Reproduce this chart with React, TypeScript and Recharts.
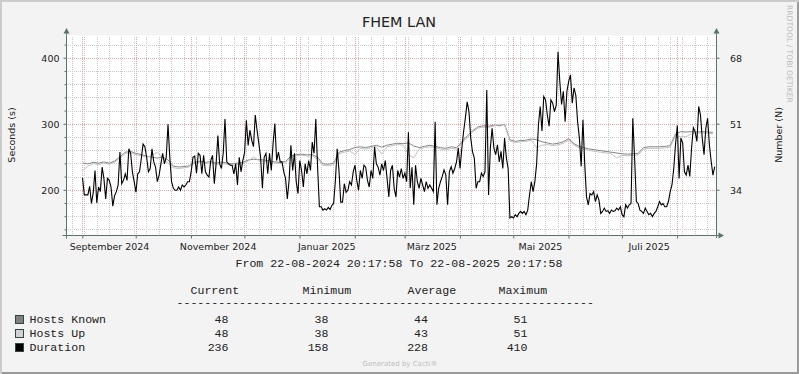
import React from 'react';
import { LineChart, Line, XAxis, YAxis, CartesianGrid, ReferenceLine, ReferenceDot } from 'recharts';

// time axis in days since 22-08-2024 20:17:58 (graph start)
const RANGE_DAYS = 365;

// Duration (seconds), one value per day starting at day 9 (01-09-2024)
const durationStartDay = 9;
const durationValues = [
  219, 193, 193, 193, 206, 180, 196, 230, 181, 205,
  198, 235, 218, 187, 218, 215, 205, 176, 192, 198,
  208, 258, 210, 215, 225, 215, 263, 256, 228, 213,
  197, 225, 228, 248, 270, 266, 250, 228, 233, 263,
  243, 235, 213, 223, 240, 256, 240, 250, 300, 250,
  213, 203, 200, 200, 205, 200, 208, 205, 208, 213,
  213, 228, 250, 252, 226, 256, 253, 225, 253, 228,
  223, 220, 245, 253, 210, 240, 283, 240, 233, 256,
  308, 243, 240, 238, 238, 225, 240, 208, 250, 228,
  245, 257, 306, 268, 291, 276, 266, 314, 291, 271,
  250, 203, 250, 256, 225, 256, 230, 271, 301, 245,
  258, 243, 243, 228, 218, 187, 215, 268, 230, 256,
  213, 195, 245, 230, 205, 240, 225, 245, 230, 273,
  256, 308, 235, 175, 175, 170, 172, 170, 174, 171,
  177, 180, 215, 263, 230, 182, 182, 210, 197, 200,
  213, 208, 228, 238, 215, 200, 230, 218, 238, 235,
  215, 205, 230, 218, 266, 240, 235, 223, 240, 230,
  245, 218, 190, 230, 238, 203, 190, 230, 220, 233,
  218, 226, 213, 288, 203, 235, 178, 238, 213, 203,
  218, 208, 198, 213, 203, 208, 203, 198, 304, 178,
  203, 213, 221, 231, 223, 178, 228, 236, 226, 233,
  243, 264, 233, 264, 289, 310, 334, 319, 279, 258,
  249, 203, 213, 213, 226, 221, 228, 352, 193, 264,
  294, 264, 254, 269, 243, 259, 233, 279, 249, 233,
  158, 160, 158, 163, 160, 165, 168, 165, 168, 163,
  170, 193, 213, 198, 213, 240, 299, 327, 290, 342,
  337, 314, 297, 337, 332, 319, 329, 410, 365, 330,
  350, 304, 350, 365, 375, 332, 355, 344, 304, 279,
  236, 307, 240, 190, 178, 195, 193, 198, 183, 193,
  185, 165, 168, 173, 168, 169, 165, 170, 168, 169,
  173, 170, 175, 163, 160, 178, 173, 178, 180, 309,
  249, 183, 180, 170, 168, 165, 173, 168, 163, 165,
  160, 165, 168, 175, 183, 178, 180, 175, 175, 183,
  198, 208, 233, 270, 298, 218, 279, 272, 228, 223,
  238, 221, 264, 295, 289, 274, 327, 314, 279, 254,
  294, 309, 269, 244, 223, 236,
];

// host counts, every 3 days starting at day 9
const hostsStartDay = 9;
const hostsStepDays = 3;
const hostsKnownValues = [
  41.0, 40.8, 41.2, 41.0, 41.3, 41.0, 41.5, 42.6, 43.8, 44.0,
  43.5, 43.2, 42.8, 42.5, 42.3, 42.6, 41.8, 40.2, 40.0, 40.1,
  40.3, 41.3, 41.5, 41.2, 41.4, 41.0, 41.3, 41.0, 40.8, 41.0,
  41.2, 41.8, 42.0, 41.9, 41.8, 41.6, 41.3, 41.2, 41.4, 42.8,
  43.2, 43.3, 43.1, 43.2, 42.5, 40.8, 40.7, 41.0, 43.8, 44.2,
  44.5, 45.0, 45.2, 45.0, 45.3, 45.6, 45.1, 45.6, 45.9, 46.1,
  46.0, 46.2, 45.4, 45.0, 45.3, 45.6, 45.3, 45.0, 44.8, 45.2,
  45.0, 46.5, 48.0, 49.3, 50.3, 50.6, 50.5, 50.8, 50.6, 51.0,
  47.0, 46.6, 46.8, 46.9, 47.2, 47.0, 46.5, 46.2, 45.9, 46.1,
  46.5, 47.3, 46.0, 45.3, 44.9, 44.6, 44.4, 44.2, 44.0, 43.8,
  43.6, 43.4, 43.3, 43.4, 43.5, 45.0, 45.2, 45.2, 45.2, 45.3,
  45.5, 48.5, 49.1, 49.0, 49.1, 49.0, 49.1, 49.0, 48.9,
];
const hostsUpValues = [
  39.0, 40.2, 40.9, 40.6, 41.0, 40.7, 41.2, 42.3, 43.5, 43.6,
  43.2, 42.9, 42.5, 43.0, 43.8, 42.3, 41.0, 39.8, 39.6, 39.8,
  40.0, 41.0, 41.2, 40.9, 41.0, 40.6, 41.0, 40.7, 40.4, 40.6,
  40.8, 41.5, 42.6, 41.6, 41.4, 41.2, 41.0, 40.9, 41.0, 42.4,
  42.9, 43.0, 42.8, 42.9, 42.0, 40.4, 40.3, 40.6, 43.4, 43.8,
  44.1, 43.2, 44.8, 44.6, 44.9, 45.2, 43.3, 45.2, 45.5, 45.8,
  45.6, 43.2, 42.3, 44.6, 45.0, 45.2, 45.0, 44.6, 44.4, 44.8,
  44.6, 46.1, 47.6, 49.0, 50.0, 50.3, 50.2, 50.5, 51.0, 50.8,
  46.7, 46.3, 46.5, 46.6, 46.9, 45.0, 45.6, 45.8, 45.5, 45.7,
  46.1, 46.9, 45.6, 44.9, 44.5, 44.2, 44.0, 43.8, 43.6, 43.4,
  42.3, 43.0, 42.9, 43.0, 43.1, 44.6, 44.8, 44.8, 44.8, 44.9,
  45.1, 48.1, 47.8, 47.8, 48.6, 48.7, 48.8, 48.7, 48.5,
];

// calendar positions (days since start)
const monthStartDays = [9.155, 39.155, 70.155, 100.155, 131.155, 162.155, 190.155, 221.155, 251.155, 282.155, 312.155, 343.155];
const monthLabelDays = [24.155, 85.155, 146.155, 205.155, 266.155, 327.155];
const monthLabels = ['September 2024', 'November 2024', 'Januar 2025', 'März 2025', 'Mai 2025', 'Juli 2025'];
const firstMondayDay = 3.155;
const weekDays = Array.from({ length: 52 }, (_, i) => firstMondayDay + 7 * i);

const secondsDomain = [131.5, 434.5];
const hostsPerSecond = 0.17;
const secondsMajor = [200, 300, 400];
const secondsMinor = [140, 160, 180, 220, 240, 260, 280, 320, 340, 360, 380, 420];
const hostsTicks = [34, 51, 68];

const legendNames = ['Hosts Known', 'Hosts Up', 'Duration'];
const legendColors = ['#808080', '#d2d2d2', '#000000'];
const statCurrent = [48, 48, 236];
const statMinimum = [38, 38, 158];
const statAverage = [44, 43, 228];
const statMaximum = [51, 51, 410];

const FONT = '"DejaVu Sans", sans-serif';
const MONO = '"Liberation Mono", monospace';
const AXIS = '#58746a';
const FRAME = '#2f4a42';
const MINOR = '#c8c8c8';
const MAJOR = '#eba5a5';

const durationData = durationValues.map((v, i) => ({ d: durationStartDay + i, v }));
const knownData = hostsKnownValues.map((v, i) => ({ d: hostsStartDay + i * hostsStepDays, v }));
const upData = hostsUpValues.map((v, i) => ({ d: hostsStartDay + i * hostsStepDays, v }));

const gridStyle = { strokeDasharray: '1 1', strokeDashoffset: 0.5, shapeRendering: 'crispEdges' } as any;

const XTick = (props: any) => {
  const { x, y, payload } = props;
  const i = monthLabelDays.indexOf(payload.value);
  if (i >= 0) {
    return (
      <text x={x} y={y + 14} textAnchor="middle" fontSize={9.5} fontFamily={FONT} fill="#222">
        {monthLabels[i]}
      </text>
    );
  }
  return <line x1={x} x2={x} y1={y} y2={y + 3} stroke={AXIS} />;
};

const LeftTick = (props: any) => {
  const { x, y, payload } = props;
  const major = payload.value % 100 === 0;
  return (
    <g>
      <line x1={x - (major ? 3 : 2)} x2={x} y1={y} y2={y} stroke={AXIS} />
      {major && (
        <text x={x - 7} y={y + 3.4} textAnchor="end" fontSize={9.5} fontFamily={FONT} fill="#222">
          {payload.value}
        </text>
      )}
    </g>
  );
};

const RightTick = (props: any) => {
  const { x, y, payload } = props;
  return (
    <g>
      <line x1={x} x2={x + 3} y1={y} y2={y} stroke={AXIS} />
      <text x={x + 13.5} y={y + 3.4} textAnchor="start" fontSize={9.5} fontFamily={FONT} fill="#222">
        {payload.value}
      </text>
    </g>
  );
};

const UpArrow = (p: any) => (
  <g>
    <line x1={p.cx} x2={p.cx} y1={p.cy} y2={p.cy - 4} stroke={AXIS} />
    <path d={`M${p.cx - 3},${p.cy - 2} L${p.cx + 3},${p.cy - 2} L${p.cx},${p.cy - 7.5} Z`} fill={AXIS} />
  </g>
);

const RightArrow = (p: any) => (
  <g>
    <line x1={p.cx} x2={p.cx + 4} y1={p.cy} y2={p.cy} stroke={AXIS} />
    <line x1={p.cx} x2={p.cx} y1={p.cy} y2={p.cy + 2.5} stroke={AXIS} />
    <path d={`M${p.cx + 2},${p.cy - 3} L${p.cx + 2},${p.cy + 3} L${p.cx + 7.5},${p.cy} Z`} fill={AXIS} />
  </g>
);

const Corner = (p: any) => (
  <g>
    <line x1={p.cx - 4} x2={p.cx} y1={p.cy} y2={p.cy} stroke={AXIS} />
    <line x1={p.cx} x2={p.cx} y1={p.cy} y2={p.cy + 3} stroke={AXIS} />
  </g>
);

export default function App() {
  return (
    <div
      style={{
        position: 'absolute',
        left: 0,
        top: 0,
        width: 799,
        height: 374,
        background: '#f3f3f3',
        boxShadow: 'inset 2px 2px 0 #cbcbcb, inset -2px -2px 0 #9a9a9a',
        overflow: 'hidden',
      }}
    >
      <LineChart width={799} height={374} margin={{ top: 35.5, right: 0, bottom: 0, left: 0 }}>
        <CartesianGrid horizontal={false} vertical={false} fill="#ffffff" />
        <XAxis
          type="number"
          dataKey="d"
          domain={[0, RANGE_DAYS]}
          allowDataOverflow
          ticks={[...monthStartDays, ...monthLabelDays].sort((a, b) => a - b)}
          interval={0}
          tick={XTick}
          tickLine={false}
          tickSize={0}
          tickMargin={0}
          height={138.5}
          axisLine={{ stroke: AXIS }}
        />
        <YAxis
          type="number"
          domain={secondsDomain}
          allowDataOverflow
          ticks={[...secondsMinor, ...secondsMajor].sort((a, b) => a - b)}
          interval={0}
          tick={LeftTick}
          tickLine={false}
          tickSize={0}
          tickMargin={0}
          width={66.5}
          axisLine={{ stroke: AXIS }}
        />
        <YAxis
          yAxisId="right"
          orientation="right"
          type="number"
          domain={[secondsDomain[0] * hostsPerSecond, secondsDomain[1] * hostsPerSecond]}
          allowDataOverflow
          ticks={hostsTicks}
          interval={0}
          tick={RightTick}
          tickLine={false}
          tickSize={0}
          tickMargin={0}
          width={82.5}
          axisLine={{ stroke: AXIS }}
        />
        {weekDays.map((d) => (
          <ReferenceLine key={'w' + d} x={d} stroke={MINOR} {...gridStyle} />
        ))}
        {secondsMinor.map((v) => (
          <ReferenceLine key={'n' + v} y={v} stroke={MINOR} {...gridStyle} />
        ))}
        {monthStartDays.map((d) => (
          <ReferenceLine key={'m' + d} x={d} stroke={MAJOR} {...gridStyle} />
        ))}
        {secondsMajor.map((v) => (
          <ReferenceLine key={'j' + v} y={v} stroke={MAJOR} {...gridStyle} />
        ))}
        <Line
          yAxisId="right"
          data={knownData}
          dataKey="v"
          type="linear"
          stroke="#858585"
          strokeWidth={1}
          dot={false}
          isAnimationActive={false}
        />
        <Line
          yAxisId="right"
          data={upData}
          dataKey="v"
          type="linear"
          stroke="#c2c2c2"
          strokeWidth={1}
          dot={false}
          isAnimationActive={false}
        />
        <Line
          data={durationData}
          dataKey="v"
          type="linear"
          stroke="#000000"
          strokeWidth={1.1}
          dot={false}
          isAnimationActive={false}
        />
        <ReferenceDot x={0} y={secondsDomain[1]} r={0} shape={UpArrow} />
        <ReferenceDot x={RANGE_DAYS} y={secondsDomain[1]} r={0} shape={UpArrow} />
        <ReferenceDot x={RANGE_DAYS} y={secondsDomain[0]} r={0} shape={RightArrow} />
        <ReferenceDot x={0} y={secondsDomain[0]} r={0} shape={Corner} />
      </LineChart>

      <svg width={799} height={374} style={{ position: 'absolute', left: 0, top: 0, pointerEvents: 'none' }}>
        <text x={399} y={27.3} textAnchor="middle" fontSize={14.4} fontFamily={FONT} fill="#222">
          FHEM LAN
        </text>
        <text transform="translate(15,135) rotate(-90)" textAnchor="middle" fontSize={9.5} fontFamily={FONT} fill="#222">
          Seconds (s)
        </text>
        <text transform="translate(781.5,135) rotate(-90)" textAnchor="middle" fontSize={9.5} fontFamily={FONT} fill="#222">
          Number (N)
        </text>
        <text transform="translate(787,5) rotate(90)" textAnchor="start" fontSize={7.6} fontFamily={FONT} fill="#bcbcbc">
          RRDTOOL / TOBI OETIKER
        </text>

        <text x={399} y={266.7} textAnchor="middle" fontSize={11.6} fontFamily={MONO} fill="#222">
          From 22-08-2024 20:17:58 To 22-08-2025 20:17:58
        </text>
        <text x={190.5} y={294.3} fontSize={11.6} fontFamily={MONO} fill="#222">Current</text>
        <text x={302.5} y={294.3} fontSize={11.6} fontFamily={MONO} fill="#222">Minimum</text>
        <text x={407.5} y={294.3} fontSize={11.6} fontFamily={MONO} fill="#222">Average</text>
        <text x={498.5} y={294.3} fontSize={11.6} fontFamily={MONO} fill="#222">Maximum</text>
        <text x={176.5} y={305.8} fontSize={11.6} fontFamily={MONO} fill="#222">
          {'-'.repeat(60)}
        </text>
        {legendNames.map((name, i) => {
          const base = 322.7 + i * 14;
          return (
            <g key={name}>
              <rect x={15.5} y={base - 7.2} width={8} height={8} fill={legendColors[i]} stroke={FRAME} />
              <text x={29.5} y={base} fontSize={11.6} fontFamily={MONO} fill="#222">{name}</text>
              <text x={228.5} y={base} textAnchor="end" fontSize={11.6} fontFamily={MONO} fill="#222">{statCurrent[i]}</text>
              <text x={328.5} y={base} textAnchor="end" fontSize={11.6} fontFamily={MONO} fill="#222">{statMinimum[i]}</text>
              <text x={428} y={base} textAnchor="end" fontSize={11.6} fontFamily={MONO} fill="#222">{statAverage[i]}</text>
              <text x={527.5} y={base} textAnchor="end" fontSize={11.6} fontFamily={MONO} fill="#222">{statMaximum[i]}</text>
            </g>
          );
        })}
        <text x={400} y={366} textAnchor="middle" fontSize={7} fontFamily={FONT} fill="#bdbdbd">
          Generated by Cacti®
        </text>
      </svg>
    </div>
  );
}
